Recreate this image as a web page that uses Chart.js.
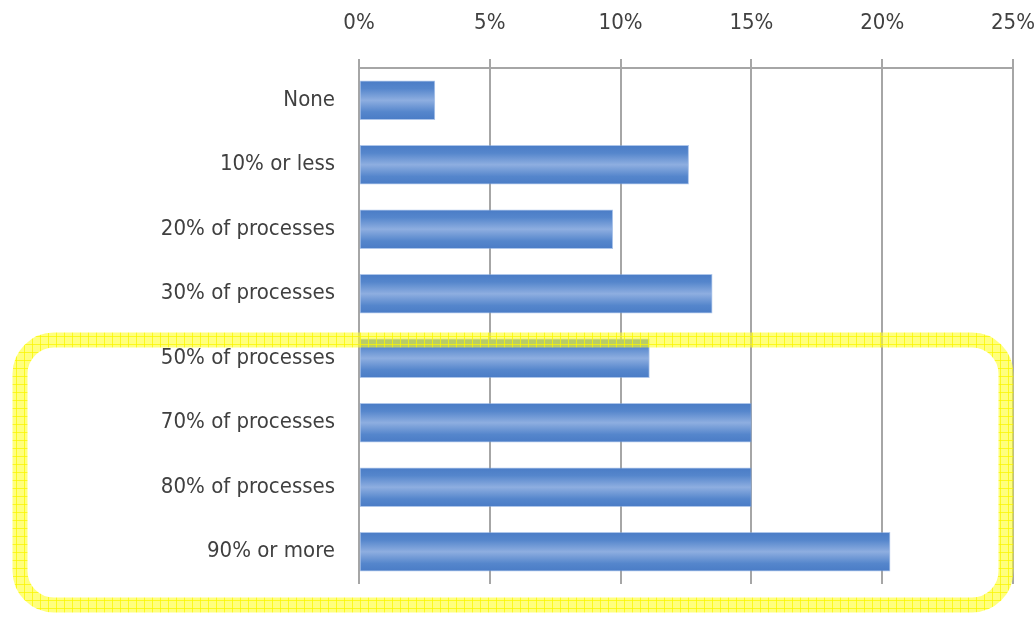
<!DOCTYPE html>
<html>
<head>
<meta charset="utf-8">
<script src="https://cdn.jsdelivr.net/npm/chart.js@4.4.1/dist/chart.umd.min.js"></script>
<style>
  html, body { margin: 0; padding: 0; background: #ffffff; }
  #wrap { width: 1035px; height: 618px; position: relative; }
</style>
</head>
<body>
<div id="wrap"><canvas id="procChart"></canvas></div>
<script>
// Data
const categories = ['None', '10% or less', '20% of processes', '30% of processes',
    '50% of processes', '70% of processes', '80% of processes', '90% or more'];
const shares = [2.9, 12.6, 9.7, 13.5, 11.1, 15.0, 15.0, 20.3];
const xTicks = [0, 5, 10, 15, 20, 25];

const fontStack = "'Liberation Sans Narrow', 'DejaVu Sans Condensed', 'Liberation Sans', sans-serif";
const barSize = 39;

// yellow highlight box (annotation drawn on top of the plot)
function makePattern(ctx) {
    const p = document.createElement('canvas');
    p.width = 8; p.height = 8;
    const pc = p.getContext('2d');
    pc.fillStyle = 'rgba(255,255,40,0.6)';
    pc.fillRect(0, 0, 8, 8);
    pc.fillStyle = 'rgba(250,245,0,0.75)';
    pc.fillRect(0, 0, 8, 1);
    pc.fillRect(0, 0, 1, 8);
    return ctx.createPattern(p, 'repeat');
}

const highlightBox = {
    id: 'highlightBox',
    afterDatasetsDraw(chart) {
        const ctx = chart.ctx;
        ctx.save();
        ctx.lineWidth = 15;
        ctx.strokeStyle = makePattern(ctx);
        ctx.beginPath();
        ctx.roundRect(20, 340, 986, 265, 34);
        ctx.stroke();
        ctx.restore();
    }
};

function barFill(c) {
    const chart = c.chart;
    const y = chart.scales && chart.scales.y;
    if (!chart.chartArea || !y || c.dataIndex === undefined) return '#5585cb';
    const mid = y.getPixelForValue(c.dataIndex);
    const g = chart.ctx.createLinearGradient(0, mid - barSize / 2, 0, mid + barSize / 2);
    g.addColorStop(0, '#4a7cc6');
    g.addColorStop(0.2, '#5586cc');
    g.addColorStop(0.5, '#8eaee0');
    g.addColorStop(0.8, '#5586cc');
    g.addColorStop(1, '#4a7cc6');
    return g;
}

new Chart(document.getElementById('procChart'), {
    type: 'bar',
    data: {
        labels: categories,
        datasets: [{
            data: shares,
            backgroundColor: barFill,
            borderColor: 'rgba(120,160,220,0.6)',
            borderWidth: 1,
            borderSkipped: false,
            barThickness: barSize
        }]
    },
    options: {
        indexAxis: 'y',
        responsive: true,
        maintainAspectRatio: false,
        animation: false,
        layout: { padding: { top: 0, right: 0, bottom: 34, left: 0 } },
        plugins: {
            legend: { display: false },
            tooltip: { enabled: false }
        },
        scales: {
            x: {
                position: 'top',
                min: 0,
                max: 25,
                afterBuildTicks: (scale) => { scale.ticks = xTicks.map(v => ({ value: v })); },
                afterFit: (scale) => {
                    scale.height = 68;
                    scale.paddingRight = 22;
                },
                grid: {
                    color: '#a6a6a6',
                    lineWidth: 2,
                    tickLength: 9,
                    drawTicks: true
                },
                border: { display: true, color: '#a6a6a6', width: 2 },
                ticks: {
                    padding: 23,
                    color: '#404040',
                    font: { family: fontStack, size: 22 },
                    callback: (v) => v + '%'
                }
            },
            y: {
                afterFit: (scale) => { scale.width = 359; },
                grid: { display: false },
                border: { display: false },
                ticks: {
                    padding: 16,
                    color: '#404040',
                    font: { family: fontStack, size: 22 }
                }
            }
        }
    },
    plugins: [highlightBox]
});
</script>
</body>
</html>
